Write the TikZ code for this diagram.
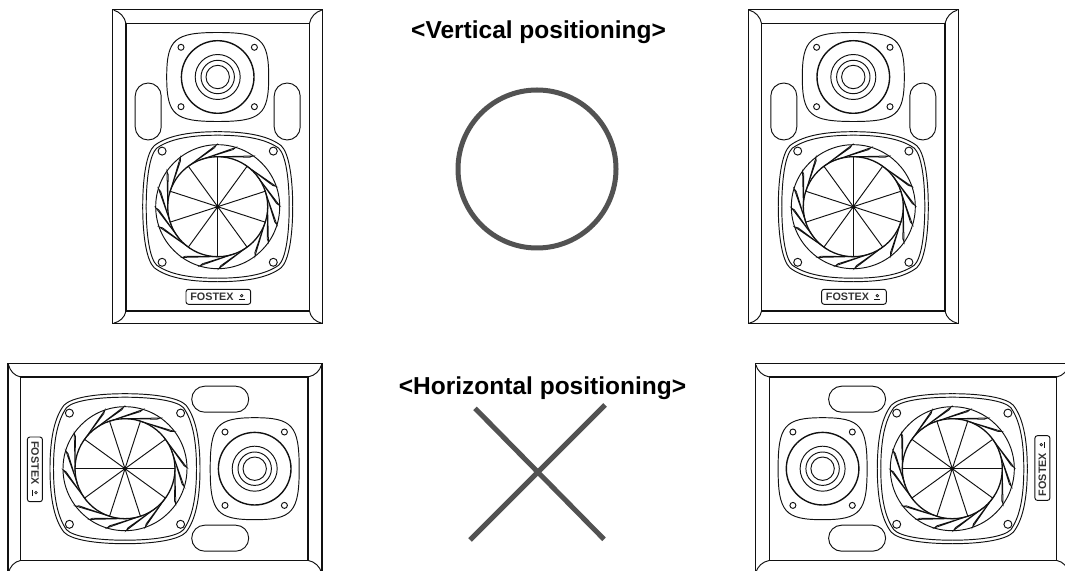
\documentclass[tikz,border=0pt]{standalone}
\usepackage{xcolor}
\usepackage{fontspec}
\setmainfont{Liberation Sans}
\definecolor{mkblack}{HTML}{111111}
\definecolor{mkgray}{HTML}{525252}

\begin{document}
\begin{tikzpicture}[
    x=1pt,y=1pt,
    wire/.style={draw=mkblack, line width=0.95pt},
    heavy/.style={draw=mkblack, line width=1.4pt},
    verdict/.style={draw=mkgray, line width=5pt},
    title/.style={font=\fontsize{24.5}{28}\bfseries, text=black, inner sep=0pt, anchor=base},
    brand/.style={font=\fontsize{10.8}{12}\bfseries, text=black!80, inner sep=0pt, transform shape},
    speaker/.pic={
      % cabinet
      \draw[heavy] (-105,-157) rectangle (105,157);
      \draw[wire, line width=1.1pt] (-91.7,-144.3) rectangle (91.7,143);
      \draw[wire] (-91.7,143) .. controls (-93,150) and (-98,155) .. (-104,156.5);
      \draw[wire] (91.7,143) .. controls (93,150) and (98,155) .. (104,156.5);
      \draw[wire] (-91.7,-144.3) .. controls (-93,-151) and (-98,-155) .. (-104,-156.5);
      \draw[wire] (91.7,-144.3) .. controls (93,-151) and (98,-155) .. (104,-156.5);
      % ports
      \draw[wire, rounded corners=13pt] (-82.5,26.7) rectangle (-56.5,83.7);
      \draw[wire, rounded corners=13pt] (56.5,26.7) rectangle (82.5,83.7);
      % tweeter
      \begin{scope}[shift={(0,89.7)}]
        \draw[wire] (0,44.5) .. controls (43,44.5) and (51,38) .. (51,0)
          .. controls (51,-38) and (43,-44.5) .. (0,-44.5)
          .. controls (-43,-44.5) and (-51,-38) .. (-51,0)
          .. controls (-51,38) and (-43,44.5) .. (0,44.5) -- cycle;
        \draw[wire, line width=1.4pt] (0,0) circle (36.3);
        \draw[wire] (0,0) circle (22.5);
        \draw[wire] (0,0) circle (16.7);
        \draw[wire] (0,0) circle (11.7);
        \foreach \sx in {-1,1}
          \foreach \sy in {-1,1}
            \draw[wire] (36.7*\sx,29.7*\sy) circle (3);
      \end{scope}
      % woofer
      \begin{scope}[shift={(0,-40)}]
        \foreach \sx in {-1,1}
          \foreach \sy in {-1,1} {
            \draw[wire, xscale=\sx, yscale=\sy] (0,75) .. controls (32,75) and (52,70) .. (63.5,61)
              .. controls (71,54) and (75,30) .. (75,0);
            \draw[wire, xscale=\sx, yscale=\sy] (0,71.5) .. controls (30,71.5) and (49,67) .. (61,58.5)
              .. controls (68,52) and (71.5,28) .. (71.5,0);
            \draw[wire] (55.6*\sx,55.6*\sy) circle (4);
          }
        \draw[wire] (0,0) circle (62);
        \draw[wire, line width=1.3pt] (0,0) circle (50);
        \foreach \a in {90,126,...,414}
          \draw[wire] (0,0) -- (\a:50);
        \foreach \a in {91,73,55,19,1,-17,-35,-53,-89,-107,-125,-161,-179,163,145,127}
          \draw[wire, line width=0.75pt] (\a+38:50) -- (\a:62) -- (\a+2:59) -- cycle;
        \fill[mkblack] (0,0) circle (2);
      \end{scope}
      % badge
      \draw[wire, rounded corners=2.5pt] (-31.7,-137.6) rectangle (33,-122.6);
      \node[brand] (-badge) at (-5.8,-130) {FOSTEX};
      \draw[wire, line width=0.7pt] (24,-129) circle (1.3);
      \draw[wire, line width=0.7pt] (21,-132.3) -- (27,-132.3);
    }
  ]
    \useasboundingbox (0,0) rectangle (1065,570);
    \clip (0,0) rectangle (1065,570);

    \pic (vleft) at (217.7,403.3) {speaker};
    \pic (vright) at (853.3,403.3) {speaker};
    \pic[rotate=-90] (hleft) at (165,101.3) {speaker};
    \pic[rotate=90] (hright) at (912.3,101.3) {speaker};

    \node[title] (vtitle) at (538.5,531) {<Vertical positioning>};
    \node[title] (htitle) at (542.5,175) {<Horizontal positioning>};

    \node[verdict, circle, minimum size=158pt, inner sep=0pt] (okmark) at (537,401) {};
    \coordinate (xa) at (475,161.7);
    \coordinate (xb) at (604,30.7);
    \coordinate (xc) at (605,165);
    \coordinate (xd) at (470,30);
    \draw[verdict] (xa) -- (xb);
    \draw[verdict] (xc) -- (xd);
\end{tikzpicture}
\end{document}
